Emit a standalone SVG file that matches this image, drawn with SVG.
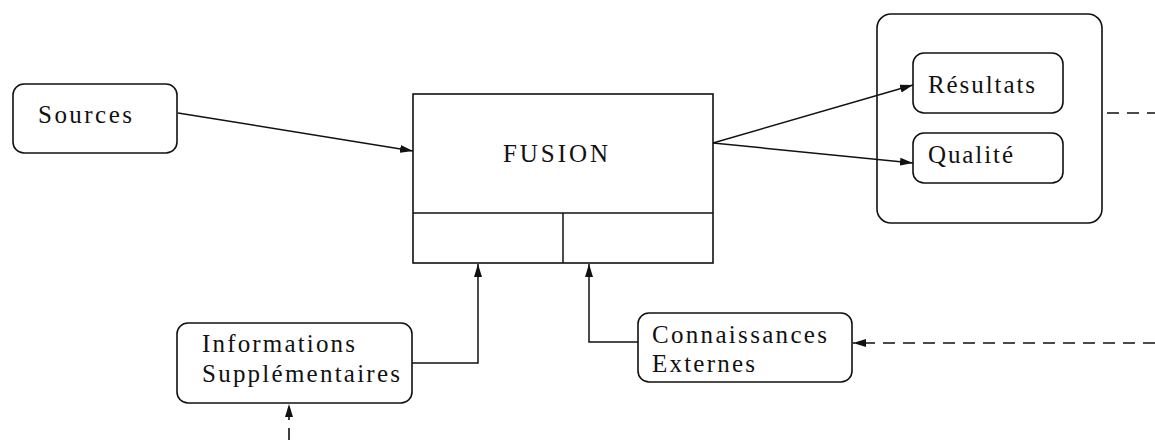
<svg xmlns="http://www.w3.org/2000/svg" width="1155" height="440" viewBox="0 0 1155 440">
<defs>
<style>
.box{fill:#fff;stroke:#111;stroke-width:1.6}
.ln{fill:none;stroke:#111;stroke-width:1.5}
.dash{fill:none;stroke:#111;stroke-width:1.6;stroke-dasharray:12 8}
.t{font-family:"Liberation Serif","Times New Roman",serif;font-size:25px;fill:#111}
</style>
<marker id="ah" viewBox="0 0 13 9" refX="13" refY="4.5" markerWidth="13" markerHeight="9" markerUnits="userSpaceOnUse" orient="auto">
<path d="M0,0.5 L13,4.5 L0,8.5 z" fill="#111"/>
</marker>
</defs>
<rect width="1155" height="440" fill="#fff"/>
<g id="sources">
<rect class="box" x="13" y="84" width="164" height="69" rx="11"/>
<text class="t" x="38" y="123" textLength="94" lengthAdjust="spacing">Sources</text>
</g>
<g id="fusion">
<rect class="box" x="413" y="94" width="300" height="169"/>
<line class="ln" x1="413" y1="213" x2="713" y2="213"/>
<line class="ln" x1="563" y1="213" x2="563" y2="263"/>
<text class="t" x="503" y="162" textLength="105" lengthAdjust="spacing">FUSION</text>
</g>
<g id="sorties">
<rect class="box" x="877" y="14" width="225" height="209" rx="14"/>
</g>
<g id="resultats">
<rect class="box" x="913" y="53" width="150" height="60" rx="11"/>
<text class="t" x="928" y="93" textLength="107" lengthAdjust="spacing">Résultats</text>
</g>
<g id="qualite">
<rect class="box" x="913" y="133" width="150" height="50" rx="11"/>
<text class="t" x="928" y="163" textLength="85" lengthAdjust="spacing">Qualité</text>
</g>
<g id="informations">
<rect class="box" x="177" y="323" width="235" height="80" rx="11"/>
<text class="t" x="202" y="352" textLength="153" lengthAdjust="spacing">Informations</text>
<text class="t" x="202" y="382" textLength="198" lengthAdjust="spacing">Supplémentaires</text>
</g>
<g id="connaissances">
<rect class="box" x="638" y="313" width="214" height="69" rx="11"/>
<text class="t" x="652" y="343" textLength="175" lengthAdjust="spacing">Connaissances</text>
<text class="t" x="652" y="372" textLength="103" lengthAdjust="spacing">Externes</text>
</g>
<g id="connectors">
<line class="ln" x1="178" y1="113" x2="413" y2="151" marker-end="url(#ah)"/>
<line class="ln" x1="713" y1="143" x2="913" y2="85" marker-end="url(#ah)"/>
<line class="ln" x1="713" y1="143" x2="913" y2="163" marker-end="url(#ah)"/>
<polyline class="ln" points="412,363 478,363 478,264" marker-end="url(#ah)"/>
<polyline class="ln" points="638,342 589,342 589,264" marker-end="url(#ah)"/>
<line class="dash" x1="1155" y1="343" x2="853" y2="343" marker-end="url(#ah)"/>
<line class="dash" x1="289" y1="440" x2="289" y2="404" marker-end="url(#ah)"/>
<line class="dash" x1="1103" y1="113" x2="1155" y2="113" stroke-dashoffset="-4"/>
</g>
</svg>
